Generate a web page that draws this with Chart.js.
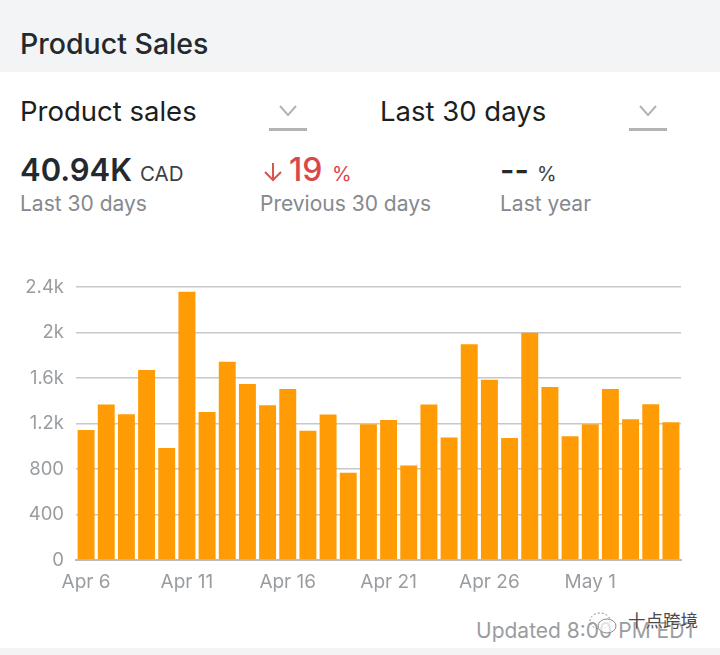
<!DOCTYPE html>
<html>
<head>
<meta charset="utf-8">
<script src="https://cdn.jsdelivr.net/npm/chart.js@4/dist/chart.umd.js"></script>
<style>
  html, body { margin: 0; padding: 0; background: #fff; }
  body { width: 720px; height: 655px; position: relative; overflow: hidden; font-family: Inter, "Noto Sans", sans-serif; }
  .t { position: absolute; white-space: nowrap; line-height: 1; }
  .band { position: absolute; left: 0; width: 720px; background: #f2f4f6; }
  .rule { position: absolute; width: 38px; height: 3px; background: #b4b4b4; top: 128px; }
  .sub { color: #85898d; font-size: 21px; top: 193px; }
  svg { position: absolute; }
  #chart { position: absolute; left: 0; top: 264px; }
</style>
</head>
<body>
<div class="band" style="top:0;height:72px"></div>
<div class="band" style="top:648px;height:7px"></div>
<div class="t" style="left:20px;top:30px;font-size:28.5px;font-weight:500;color:#24292e">Product Sales</div>

<div class="t" style="left:20px;top:98px;font-size:27.5px;color:#1c1e20">Product sales</div>
<svg style="left:278px;top:104px" width="20" height="14"><path d="M2 2 L10 11 L18 2" fill="none" stroke="#b4b4b4" stroke-width="2"/></svg>
<div class="rule" style="left:269px"></div>
<div class="t" style="left:380px;top:98px;font-size:27.5px;color:#1c1e20">Last 30 days</div>
<svg style="left:638px;top:104px" width="20" height="14"><path d="M2 2 L10 11 L18 2" fill="none" stroke="#b4b4b4" stroke-width="2"/></svg>
<div class="rule" style="left:629px"></div>

<div class="t" style="left:20px;top:154px;font-size:31px;font-weight:600;color:#24292e">40.94K</div>
<div class="t" style="left:140px;top:164px;font-size:20.5px;color:#3c4044">CAD</div>
<div class="t sub" style="left:20px">Last 30 days</div>

<svg style="left:263px;top:161px" width="22" height="22"><path d="M10 2 L10 19 M2 11 L10 19 L18 11" fill="none" stroke="#d9534f" stroke-width="2"/></svg>
<div class="t" style="left:289px;top:154px;font-size:32px;font-weight:500;color:#d8474a">19</div>
<div class="t" style="left:332px;top:164px;font-size:20px;color:#d8474a">%</div>
<div class="t sub" style="left:260px">Previous 30 days</div>

<div class="t" style="left:500px;top:154px;font-size:31px;font-weight:600;color:#24292e">--</div>
<div class="t" style="left:537px;top:164px;font-size:20px;color:#3c4044">%</div>
<div class="t sub" style="left:500px">Last year</div>

<canvas id="chart" width="720" height="336"></canvas>

<div class="t" style="left:476px;top:620px;font-size:21px;color:#9a9da0">Updated 8:00 PM EDT</div>
<svg style="left:588px;top:610px" width="34" height="28"><ellipse cx="12" cy="11" rx="10" ry="8" fill="none" stroke="#8a8a8a" stroke-dasharray="2 2"/><ellipse cx="19" cy="16" rx="9" ry="7" fill="rgba(255,255,255,.7)" stroke="#8a8a8a"/></svg>
<div class="t" style="left:628px;top:611px;font-size:17.5px;font-family:'Noto Sans CJK SC';color:#4a4a4a;text-shadow:0 0 2px #fff">十点跨境</div>

<script>
const dates = ['Apr 6','Apr 7','Apr 8','Apr 9','Apr 10','Apr 11','Apr 12','Apr 13','Apr 14','Apr 15',
  'Apr 16','Apr 17','Apr 18','Apr 19','Apr 20','Apr 21','Apr 22','Apr 23','Apr 24','Apr 25',
  'Apr 26','Apr 27','Apr 28','Apr 29','Apr 30','May 1','May 2','May 3','May 4','May 5'];
const sales = [1144,1367,1282,1671,986,2359,1302,1744,1548,1361,
  1504,1136,1279,767,1194,1232,831,1367,1077,1897,
  1586,1074,1999,1522,1089,1194,1504,1238,1370,1212];
const yTickLabels = ['0','400','800','1.2k','1.6k','2k','2.4k'];

new Chart(document.getElementById('chart'), {
  type: 'bar',
  data: {
    labels: dates,
    datasets: [{ data: sales, backgroundColor: '#ff9b05', barPercentage: 0.84, categoryPercentage: 1 }]
  },
  options: {
    responsive: false,
    animation: false,
    layout: { padding: { top: 12, right: 39, left: 0, bottom: 0 } },
    plugins: { legend: { display: false }, tooltip: { enabled: false } },
    scales: {
      x: {
        afterFit: (s) => { s.height = 40; },
        grid: { display: false },
        border: { color: '#b9bbbd', width: 2 },
        ticks: {
          autoSkip: false,
          maxRotation: 0,
          color: '#9a9da0',
          font: { family: 'Inter', size: 19 },
          padding: 3,
          // one label every five days
          callback: (v, i) => (i % 5 === 0 ? dates[i] : '')
        }
      },
      y: {
        min: 0,
        max: 2400,
        afterFit: (s) => { s.width = 76; },
        border: { display: false },
        grid: { color: '#c6c8ca', lineWidth: 1.5, drawTicks: false },
        ticks: {
          stepSize: 400,
          color: '#9a9da0',
          font: { family: 'Inter', size: 18.5 },
          padding: 12,
          callback: (v, i) => yTickLabels[i]
        }
      }
    }
  }
});
</script>
</body>
</html>
